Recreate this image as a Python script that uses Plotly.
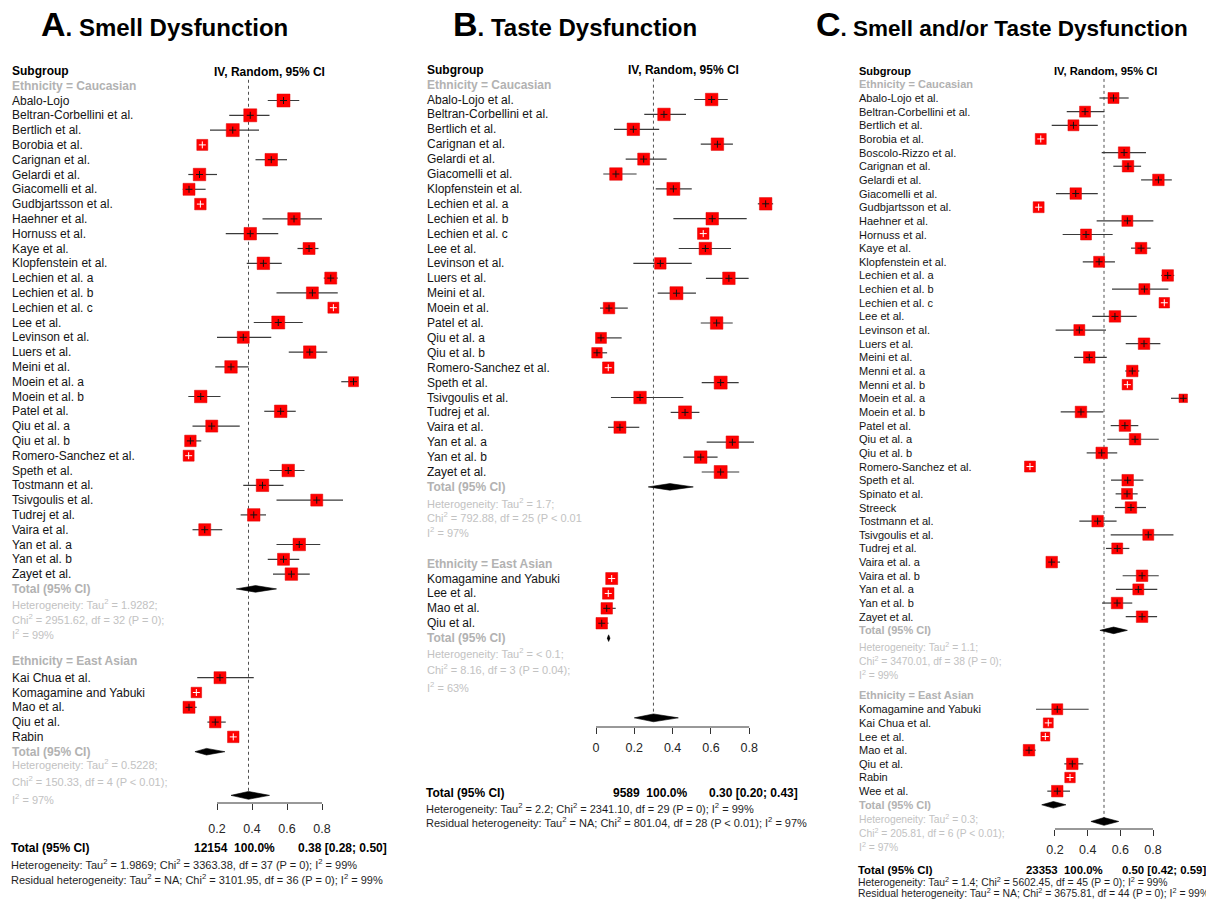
import math
import plotly.graph_objects as go

W, H = 1206, 902
FONT = "Liberation Sans, Arial, Helvetica, sans-serif"

# ======================= DATA =======================
# ---- Panel A: Smell Dysfunction ----
A_CAU_NAMES = ["Abalo-Lojo", "Beltran-Corbellini et al.", "Bertlich et al.", "Borobia et al.", "Carignan et al.",
               "Gelardi et al.", "Giacomelli et al.", "Gudbjartsson et al.", "Haehner et al.", "Hornuss et al.",
               "Kaye et al.", "Klopfenstein et al.", "Lechien et al. a", "Lechien et al. b", "Lechien et al. c",
               "Lee et al.", "Levinson et al.", "Luers et al.", "Meini et al.", "Moein et al. a", "Moein et al. b",
               "Patel et al.", "Qiu et al. a", "Qiu et al. b", "Romero-Sanchez et al.", "Speth et al.",
               "Tostmann et al.", "Tsivgoulis et al.", "Tudrej et al.", "Vaira et al.", "Yan et al. a",
               "Yan et al. b", "Zayet et al."]
A_CAU_EST = [0.58, 0.39, 0.29, 0.116, 0.51, 0.10, 0.04, 0.105, 0.64, 0.39, 0.726, 0.465, 0.85, 0.745, 0.865,
             0.55, 0.35, 0.73, 0.28, 0.98, 0.107, 0.564, 0.17, 0.048, 0.038, 0.607, 0.46, 0.77, 0.41, 0.13,
             0.67, 0.58, 0.625]
A_CAU_LO = [0.49, 0.27, 0.16, 0.11, 0.42, 0.036, 0.004, 0.10, 0.46, 0.25, 0.66, 0.37, 0.81, 0.54, 0.86,
            0.41, 0.20, 0.61, 0.19, 0.91, 0.036, 0.47, 0.06, 0.017, 0.034, 0.50, 0.35, 0.54, 0.335, 0.06,
            0.54, 0.49, 0.52]
A_CAU_HI = [0.67, 0.50, 0.44, 0.122, 0.60, 0.20, 0.135, 0.11, 0.80, 0.55, 0.78, 0.57, 0.89, 0.89, 0.87,
            0.69, 0.51, 0.83, 0.38, 0.995, 0.22, 0.65, 0.33, 0.11, 0.043, 0.70, 0.58, 0.92, 0.48, 0.23,
            0.79, 0.67, 0.73]
A_CAU_W = [2.71, 2.71, 2.71, 1.94, 2.50, 2.50, 2.31, 2.12, 2.50, 2.50, 2.31, 2.50, 2.31, 2.31, 1.94,
           2.71, 2.31, 2.50, 2.50, 1.60, 2.50, 2.50, 2.31, 2.12, 1.94, 2.50, 2.50, 2.31, 2.50, 2.31,
           2.50, 2.31, 2.50]
A_CAU_TOTAL = [0.42, 0.31, 0.54]
A_EA_NAMES = ["Kai Chua et al.", "Komagamine and Yabuki", "Mao et al.", "Qiu et al.", "Rabin"]
A_EA_EST = [0.217, 0.082, 0.04, 0.19, 0.293]
A_EA_LO = [0.087, 0.074, 0.008, 0.145, 0.287]
A_EA_HI = [0.41, 0.09, 0.084, 0.25, 0.30]
A_EA_W = [2.31, 1.77, 2.31, 2.12, 2.12]
A_EA_TOTAL = [0.14, 0.074, 0.245]
A_OVERALL = [0.38, 0.28, 0.50]
A_N_TOTAL = 12154
A_HET_CAU = ["Heterogeneity: Tau<sup>2</sup> = 1.9282;", "Chi<sup>2</sup> = 2951.62, df = 32 (P = 0);",
             "I<sup>2</sup> = 99%"]
A_HET_EA = ["Heterogeneity: Tau<sup>2</sup> = 0.5228;", "Chi<sup>2</sup> = 150.33, df = 4 (P < 0.01);",
            "I<sup>2</sup> = 97%"]
A_HET_ALL = ("Heterogeneity: Tau<sup>2</sup> = 1.9869; Chi<sup>2</sup> = 3363.38, df = 37 (P = 0); "
             "I<sup>2</sup> = 99%")
A_RESID = ("Residual heterogeneity: Tau<sup>2</sup> = NA; Chi<sup>2</sup> = 3101.95, df = 36 (P = 0); "
           "I<sup>2</sup> = 99%")
A_TICKS = [0.2, 0.4, 0.6, 0.8]

# ---- Panel B: Taste Dysfunction ----
B_CAU_NAMES = ["Abalo-Lojo et al.", "Beltran-Corbellini et al.", "Bertlich et al.", "Carignan et al.",
               "Gelardi et al.", "Giacomelli et al.", "Klopfenstein et al.", "Lechien et al. a", "Lechien et al. b",
               "Lechien et al. c", "Lee et al.", "Levinson et al.", "Luers et al.", "Meini et al.", "Moein et al.",
               "Patel et al.", "Qiu et al. a", "Qiu et al. b", "Romero-Sanchez et al.", "Speth et al.",
               "Tsivgoulis et al.", "Tudrej et al.", "Vaira et al.", "Yan et al. a", "Yan et al. b", "Zayet et al."]
B_CAU_EST = [0.604, 0.355, 0.195, 0.634, 0.249, 0.104, 0.404, 0.886, 0.607, 0.56, 0.571, 0.336, 0.694, 0.42,
             0.068, 0.63, 0.026, 0.005, 0.064, 0.651, 0.23, 0.465, 0.125, 0.712, 0.547, 0.651]
B_CAU_LO = [0.513, 0.252, 0.094, 0.547, 0.155, 0.038, 0.312, 0.845, 0.404, 0.553, 0.432, 0.195, 0.574, 0.322,
            0.021, 0.547, 0.003, 0.0, 0.060, 0.552, 0.078, 0.39, 0.063, 0.578, 0.456, 0.552]
B_CAU_HI = [0.688, 0.47, 0.33, 0.715, 0.369, 0.212, 0.50, 0.925, 0.787, 0.567, 0.705, 0.50, 0.797, 0.522,
            0.166, 0.714, 0.134, 0.058, 0.068, 0.745, 0.456, 0.54, 0.226, 0.825, 0.635, 0.748]
B_CAU_W = [3.14, 3.14, 3.14, 3.14, 2.90, 3.14, 3.40, 3.14, 3.14, 2.66, 3.14, 2.66, 3.14, 3.40, 2.66,
           3.14, 2.43, 2.22, 2.66, 3.40, 3.14, 3.40, 2.90, 3.14, 3.14, 3.40]
B_CAU_TOTAL = [0.386, 0.273, 0.508]
B_EA_NAMES = ["Komagamine and Yabuki", "Lee et al.", "Mao et al.", "Qiu et al."]
B_EA_EST = [0.082, 0.064, 0.056, 0.03]
B_EA_LO = [0.074, 0.058, 0.026, 0.0]
B_EA_HI = [0.09, 0.07, 0.103, 0.065]
B_EA_W = [2.90, 2.66, 2.66, 2.66]
B_EA_TOTAL = [0.066, 0.059, 0.073]
B_OVERALL = [0.30, 0.20, 0.43]
B_N_TOTAL = 9589
B_HET_CAU = ["Heterogeneity: Tau<sup>2</sup> = 1.7;", "Chi<sup>2</sup> = 792.88, df = 25 (P < 0.01",
             "I<sup>2</sup> = 97%"]
B_HET_EA = ["Heterogeneity: Tau<sup>2</sup> = < 0.1;", "Chi<sup>2</sup> = 8.16, df = 3 (P = 0.04);",
            "I<sup>2</sup> = 63%"]
B_HET_ALL = ("Heterogeneity: Tau<sup>2</sup> = 2.2; Chi<sup>2</sup> = 2341.10, df = 29 (P = 0); "
             "I<sup>2</sup> = 99%")
B_RESID = ("Residual heterogeneity: Tau<sup>2</sup> = NA; Chi<sup>2</sup> = 801.04, df = 28 (P < 0.01); "
           "I<sup>2</sup> = 97%")
B_TICKS = [0, 0.2, 0.4, 0.6, 0.8]

# ---- Panel C: Smell and/or Taste Dysfunction ----
C_CAU_NAMES = ["Abalo-Lojo et al.", "Beltran-Corbellini et al.", "Bertlich et al.", "Borobia et al.",
               "Boscolo-Rizzo et al.", "Carignan et al.", "Gelardi et al.", "Giacomelli et al.",
               "Gudbjartsson et al.", "Haehner et al.", "Hornuss et al.", "Kaye et al.", "Klopfenstein et al.",
               "Lechien et al. a", "Lechien et al. b", "Lechien et al. c", "Lee et al.", "Levinson et al.",
               "Luers et al.", "Meini et al.", "Menni et al. a", "Menni et al. b", "Moein et al. a",
               "Moein et al. b", "Patel et al.", "Qiu et al. a", "Qiu et al. b", "Romero-Sanchez et al.",
               "Speth et al.", "Spinato et al.", "Streeck", "Tostmann et al.", "Tsivgoulis et al.",
               "Tudrej et al.", "Vaira et al. a", "Vaira et al. b", "Yan et al. a", "Yan et al. b", "Zayet et al."]
C_CAU_EST = [0.558, 0.384, 0.313, 0.113, 0.623, 0.647, 0.833, 0.327, 0.10, 0.643, 0.39, 0.727, 0.47, 0.89,
             0.747, 0.869, 0.567, 0.349, 0.745, 0.41, 0.673, 0.643, 0.985, 0.359, 0.628, 0.69, 0.486, 0.047,
             0.645, 0.641, 0.665, 0.461, 0.771, 0.581, 0.18, 0.733, 0.71, 0.58, 0.733]
C_CAU_LO = [0.472, 0.272, 0.18, 0.108, 0.486, 0.557, 0.727, 0.206, 0.095, 0.455, 0.247, 0.665, 0.37, 0.85,
            0.549, 0.864, 0.428, 0.204, 0.633, 0.317, 0.63, 0.638, 0.91, 0.235, 0.541, 0.52, 0.394, 0.043,
            0.543, 0.571, 0.567, 0.349, 0.541, 0.512, 0.149, 0.614, 0.573, 0.488, 0.633]
C_CAU_HI = [0.651, 0.502, 0.462, 0.118, 0.757, 0.727, 0.915, 0.462, 0.105, 0.802, 0.553, 0.786, 0.567, 0.93,
            0.894, 0.874, 0.70, 0.512, 0.845, 0.517, 0.716, 0.648, 1.0, 0.496, 0.71, 0.835, 0.581, 0.051,
            0.741, 0.706, 0.757, 0.577, 0.925, 0.655, 0.231, 0.835, 0.826, 0.673, 0.825]
C_CAU_W = [1.84, 1.84, 1.84, 1.84, 2.02, 2.02, 2.02, 2.02, 1.84, 1.84, 1.84, 2.02, 1.84, 2.02, 1.84, 1.68,
           2.02, 1.84, 2.02, 2.02, 2.02, 1.68, 1.10, 2.02, 2.02, 2.02, 2.02, 1.84, 2.02, 1.84, 2.02, 2.02,
           1.84, 1.84, 2.02, 2.02, 1.84, 2.02, 2.02]
C_CAU_TOTAL = [0.559, 0.475, 0.643]
C_EA_NAMES = ["Komagamine and Yabuki", "Kai Chua et al.", "Lee et al.", "Mao et al.", "Qiu et al.", "Rabin",
              "Wee et al."]
C_EA_EST = [0.214, 0.159, 0.141, 0.041, 0.306, 0.292, 0.214]
C_EA_LO = [0.084, 0.14, 0.135, 0.006, 0.257, 0.287, 0.153]
C_EA_HI = [0.406, 0.18, 0.147, 0.082, 0.373, 0.297, 0.292]
C_EA_W = [1.84, 1.52, 1.23, 2.02, 2.02, 1.68, 2.02]
C_EA_TOTAL = [0.19, 0.119, 0.267]
C_OVERALL = [0.50, 0.42, 0.59]
C_N_TOTAL = 23353
C_HET_CAU = ["Heterogeneity: Tau<sup>2</sup> = 1.1;", "Chi<sup>2</sup> = 3470.01, df = 38 (P = 0);",
             "I<sup>2</sup> = 99%"]
C_HET_EA = ["Heterogeneity: Tau<sup>2</sup> = 0.3;", "Chi<sup>2</sup> = 205.81, df = 6 (P < 0.01);",
            "I<sup>2</sup> = 97%"]
C_HET_ALL = ("Heterogeneity: Tau<sup>2</sup> = 1.4; Chi<sup>2</sup> = 5602.45, df = 45 (P = 0); "
             "I<sup>2</sup> = 99%")
C_RESID = ("Residual heterogeneity: Tau<sup>2</sup> = NA; Chi<sup>2</sup> = 3675.81, df = 44 (P = 0); "
           "I<sup>2</sup> = 99%")
C_TICKS = [0.2, 0.4, 0.6, 0.8]

PANEL_TITLES = [("A", ". Smell Dysfunction"), ("B", ". Taste Dysfunction"),
                ("C", ". Smell and/or Taste Dysfunction")]

PANELS = [
    dict(cau=(A_CAU_NAMES, A_CAU_EST, A_CAU_LO, A_CAU_HI, A_CAU_W), cau_total=A_CAU_TOTAL,
         ea=(A_EA_NAMES, A_EA_EST, A_EA_LO, A_EA_HI, A_EA_W), ea_total=A_EA_TOTAL, overall=A_OVERALL,
         n=A_N_TOTAL, het_cau=A_HET_CAU, het_ea=A_HET_EA, het_all=A_HET_ALL, resid=A_RESID, ticks=A_TICKS),
    dict(cau=(B_CAU_NAMES, B_CAU_EST, B_CAU_LO, B_CAU_HI, B_CAU_W), cau_total=B_CAU_TOTAL,
         ea=(B_EA_NAMES, B_EA_EST, B_EA_LO, B_EA_HI, B_EA_W), ea_total=B_EA_TOTAL, overall=B_OVERALL,
         n=B_N_TOTAL, het_cau=B_HET_CAU, het_ea=B_HET_EA, het_all=B_HET_ALL, resid=B_RESID, ticks=B_TICKS),
    dict(cau=(C_CAU_NAMES, C_CAU_EST, C_CAU_LO, C_CAU_HI, C_CAU_W), cau_total=C_CAU_TOTAL,
         ea=(C_EA_NAMES, C_EA_EST, C_EA_LO, C_EA_HI, C_EA_W), ea_total=C_EA_TOTAL, overall=C_OVERALL,
         n=C_N_TOTAL, het_cau=C_HET_CAU, het_ea=C_HET_EA, het_all=C_HET_ALL, resid=C_RESID, ticks=C_TICKS),
]

# ======================= LAYOUT (positions / styles) =======================
LAYOUTS = [
    dict(title_x=39, title_fs=24, label_x=10, px0=182, ppu=175, dom=(150, 400), top=100.5, rowh=14.8,
         axis_px=803, cau_het=[34.05, 35.05, 36.05], ea_head=37.9, ea_start=39.0, ea_het=[44.85, 46.0, 47.2],
         overall_row=46.95, fs=12, het_fs=11, k=7.9, hdr_x=269, hdr_fs=12,
         bottom_y=[848, 864, 879], n_right=277, est_left=296, bot_fs=11, bot_bold_fs=12, standoff=8),
    dict(title_x=451, title_fs=24, label_x=425, px0=596, ppu=191.5, dom=(560, 800), top=99.5, rowh=14.9,
         axis_px=727, cau_het=[27.05, 28.05, 29.05], ea_head=31.15, ea_start=32.15, ea_het=[37.15, 38.25, 39.4],
         overall_row=41.5, fs=12, het_fs=11, k=7.05, hdr_x=683, hdr_fs=12,
         bottom_y=[793, 808, 822], n_right=689, est_left=707, bot_fs=11, bot_bold_fs=12, standoff=3),
    dict(title_x=814, title_fs=22.5, label_x=857, px0=1022.3, ppu=163.4, dom=(1000, 1206), top=98,
         rowh=13.65, axis_px=829, cau_het=[40.2, 41.2, 42.2], ea_head=43.75, ea_start=44.78,
         ea_het=[52.8, 53.8, 54.85], overall_row=53.0, fs=11, het_fs=10.3, k=8.1, hdr_x=1105, hdr_fs=11.2,
         bottom_y=[870, 881, 892], n_right=1105, est_left=1120, bot_fs=10.4, bot_bold_fs=11.4, standoff=3),
]

BLACK = "#141414"
GRAY_HEAD = "#b2b2b2"
GRAY_HET = "#c2c2c2"
SQUARE = "#ff0000"

fig = go.Figure()
annotations = []
shapes = []


def ann(text, x_px, y_px, size, color, xanchor="left", bold=False):
    if bold:
        text = f"<b>{text}</b>"
    annotations.append(dict(text=text, x=x_px / W, y=1 - y_px / H, xref="paper", yref="paper",
                            xanchor=xanchor, yanchor="middle", showarrow=False,
                            font=dict(family=FONT, size=size, color=color)))


for i, (D, L) in enumerate(zip(PANELS, LAYOUTS), start=1):
    sfx = "" if i == 1 else str(i)
    xa, ya = "x" + sfx, "y" + sfx
    rowh = L["rowh"]

    def row_px(r, L=L):
        return L["top"] + r * L["rowh"]

    cn, ce, cl, ch, cw = D["cau"]
    en, ee, el, eh, ew = D["ea"]
    cau_rows = list(range(len(cn)))
    ea_rows = [L["ea_start"] + j for j in range(len(en))]
    cau_total_row = len(cn)
    ea_total_row = L["ea_start"] + len(en)

    names = cn + en
    est = ce + ee
    lo = cl + el
    hi = ch + eh
    wts = cw + ew
    rows = cau_rows + ea_rows
    sizes = [L["k"] * math.sqrt(v) for v in wts]

    # reference (dotted) line at overall estimate
    fig.add_trace(go.Scatter(x=[D["overall"][0], D["overall"][0]], y=[-1.4, L["overall_row"]], mode="lines",
                             line=dict(color="#505050", width=1, dash="dot"), xaxis=xa, yaxis=ya,
                             hoverinfo="skip"))

    # confidence-interval lines
    cx, cy = [], []
    for l, h, r in zip(lo, hi, rows):
        cx += [l, h, None]
        cy += [r, r, None]
    fig.add_trace(go.Scatter(x=cx, y=cy, mode="lines", line=dict(color="#3a3a3a", width=1.2),
                             xaxis=xa, yaxis=ya, hoverinfo="skip"))

    # weight squares
    fig.add_trace(go.Scatter(x=est, y=rows, mode="markers", text=names,
                             marker=dict(symbol="square", size=sizes, color=SQUARE, opacity=1,
                                         line=dict(color="#dd0000", width=0.5)),
                             xaxis=xa, yaxis=ya, hoverinfo="text+x"))

    # small crosses at the estimate (white when CI lies inside the box)
    inside = [(h - l) * L["ppu"] < s for l, h, s in zip(lo, hi, sizes)]
    for flag, col in [(False, "#111111"), (True, "#ffffff")]:
        xs = [e for e, f in zip(est, inside) if f == flag]
        ys = [r for r, f in zip(rows, inside) if f == flag]
        if xs:
            fig.add_trace(go.Scatter(x=xs, y=ys, mode="markers",
                                     marker=dict(symbol="cross-thin", size=5, opacity=1,
                                                 line=dict(color=col, width=1)),
                                     xaxis=xa, yaxis=ya, hoverinfo="skip"))

    # diamonds
    for ci, row, hpx in [(D["cau_total"], cau_total_row, 3.3), (D["ea_total"], ea_total_row, 3.3),
                         (D["overall"], L["overall_row"], 3.9)]:
        e, l, h = ci
        hh = hpx / rowh
        fig.add_trace(go.Scatter(x=[l, e, h, e, l], y=[row, row - hh, row, row + hh, row], mode="lines",
                                 fill="toself", fillcolor="#000000", line=dict(color="#000000", width=0.6),
                                 xaxis=xa, yaxis=ya, hoverinfo="skip"))

    # axes
    d0, d1 = L["dom"]
    fig.layout["xaxis" + sfx] = dict(
        domain=[d0 / W, d1 / W], range=[(d0 - L["px0"]) / L["ppu"], (d1 - L["px0"]) / L["ppu"]],
        anchor=ya, showgrid=False, zeroline=False, showline=False, ticks="outside",
        ticklen=6, tickwidth=1, tickcolor="#333333", tickvals=D["ticks"],
        ticktext=[f"{v:g}" for v in D["ticks"]],
        tickfont=dict(family=FONT, size=12.5, color="#262626"),
        ticklabelstandoff=L["standoff"], fixedrange=True)
    top_dom = 50
    fig.layout["yaxis" + sfx] = dict(
        domain=[1 - L["axis_px"] / H, 1 - top_dom / H],
        range=[(L["axis_px"] - L["top"]) / rowh, (top_dom - L["top"]) / rowh],
        anchor=xa, visible=False, fixedrange=True)
    shapes.append(dict(type="line", xref=xa, yref=ya + " domain", x0=D["ticks"][0], x1=D["ticks"][-1],
                       y0=0, y1=0, line=dict(color="#333333", width=1)))

    # text column
    lx = L["label_x"]
    ann("Subgroup", lx, row_px(-2), L["fs"], "#000000", bold=True)
    ann("IV, Random, 95% CI", L["hdr_x"], row_px(-1.95), L["hdr_fs"], "#000000", xanchor="center", bold=True)
    ann("Ethnicity = Caucasian", lx, row_px(-1), L["fs"], GRAY_HEAD, bold=True)
    for nm, r in zip(names, rows):
        ann(nm, lx, row_px(r), L["fs"], BLACK)
    ann("Total (95% CI)", lx, row_px(cau_total_row), L["fs"], GRAY_HEAD, bold=True)
    for t, r in zip(D["het_cau"], L["cau_het"]):
        ann(t, lx, row_px(r), L["het_fs"], GRAY_HET)
    ann("Ethnicity = East Asian", lx, row_px(L["ea_head"]), L["fs"], GRAY_HEAD, bold=True)
    ann("Total (95% CI)", lx, row_px(ea_total_row), L["fs"], GRAY_HEAD, bold=True)
    for t, r in zip(D["het_ea"], L["ea_het"]):
        ann(t, lx, row_px(r), L["het_fs"], GRAY_HET)

    # overall summary text
    by = L["bottom_y"]
    bx = L["label_x"] - 1
    ann("Total (95% CI)", bx, by[0], L["bot_bold_fs"], "#000000", bold=True)
    ann(f"{D['n']}&nbsp;&nbsp;100.0%", L["n_right"], by[0], L["bot_bold_fs"], "#000000",
        xanchor="right", bold=True)
    oe, ol, oh = D["overall"]
    ann(f"{oe:.2f} [{ol:.2f}; {oh:.2f}]", L["est_left"], by[0], L["bot_bold_fs"], "#000000", bold=True)
    ann(D["het_all"], bx, by[1], L["bot_fs"], "#1e1e1e")
    ann(D["resid"], bx, by[2], L["bot_fs"], "#1e1e1e")

    # panel title
    letter, rest = PANEL_TITLES[i - 1]
    annotations.append(dict(text=f"<b><span style='font-size:34px'>{letter}</span>{rest}</b>",
                            x=L["title_x"] / W, y=1 - 24 / H, xref="paper", yref="paper", xanchor="left",
                            yanchor="middle", showarrow=False,
                            font=dict(family=FONT, size=L["title_fs"], color="#000000")))

fig.update_layout(width=W, height=H, margin=dict(l=0, r=0, t=0, b=0), paper_bgcolor="white",
                  plot_bgcolor="white", showlegend=False, annotations=annotations, shapes=shapes,
                  font=dict(family=FONT), hovermode="closest")
fig.write_html("out.html", config={"displayModeBar": False},
               post_script="document.body.style.margin='0px';document.body.style.overflow='hidden';")
